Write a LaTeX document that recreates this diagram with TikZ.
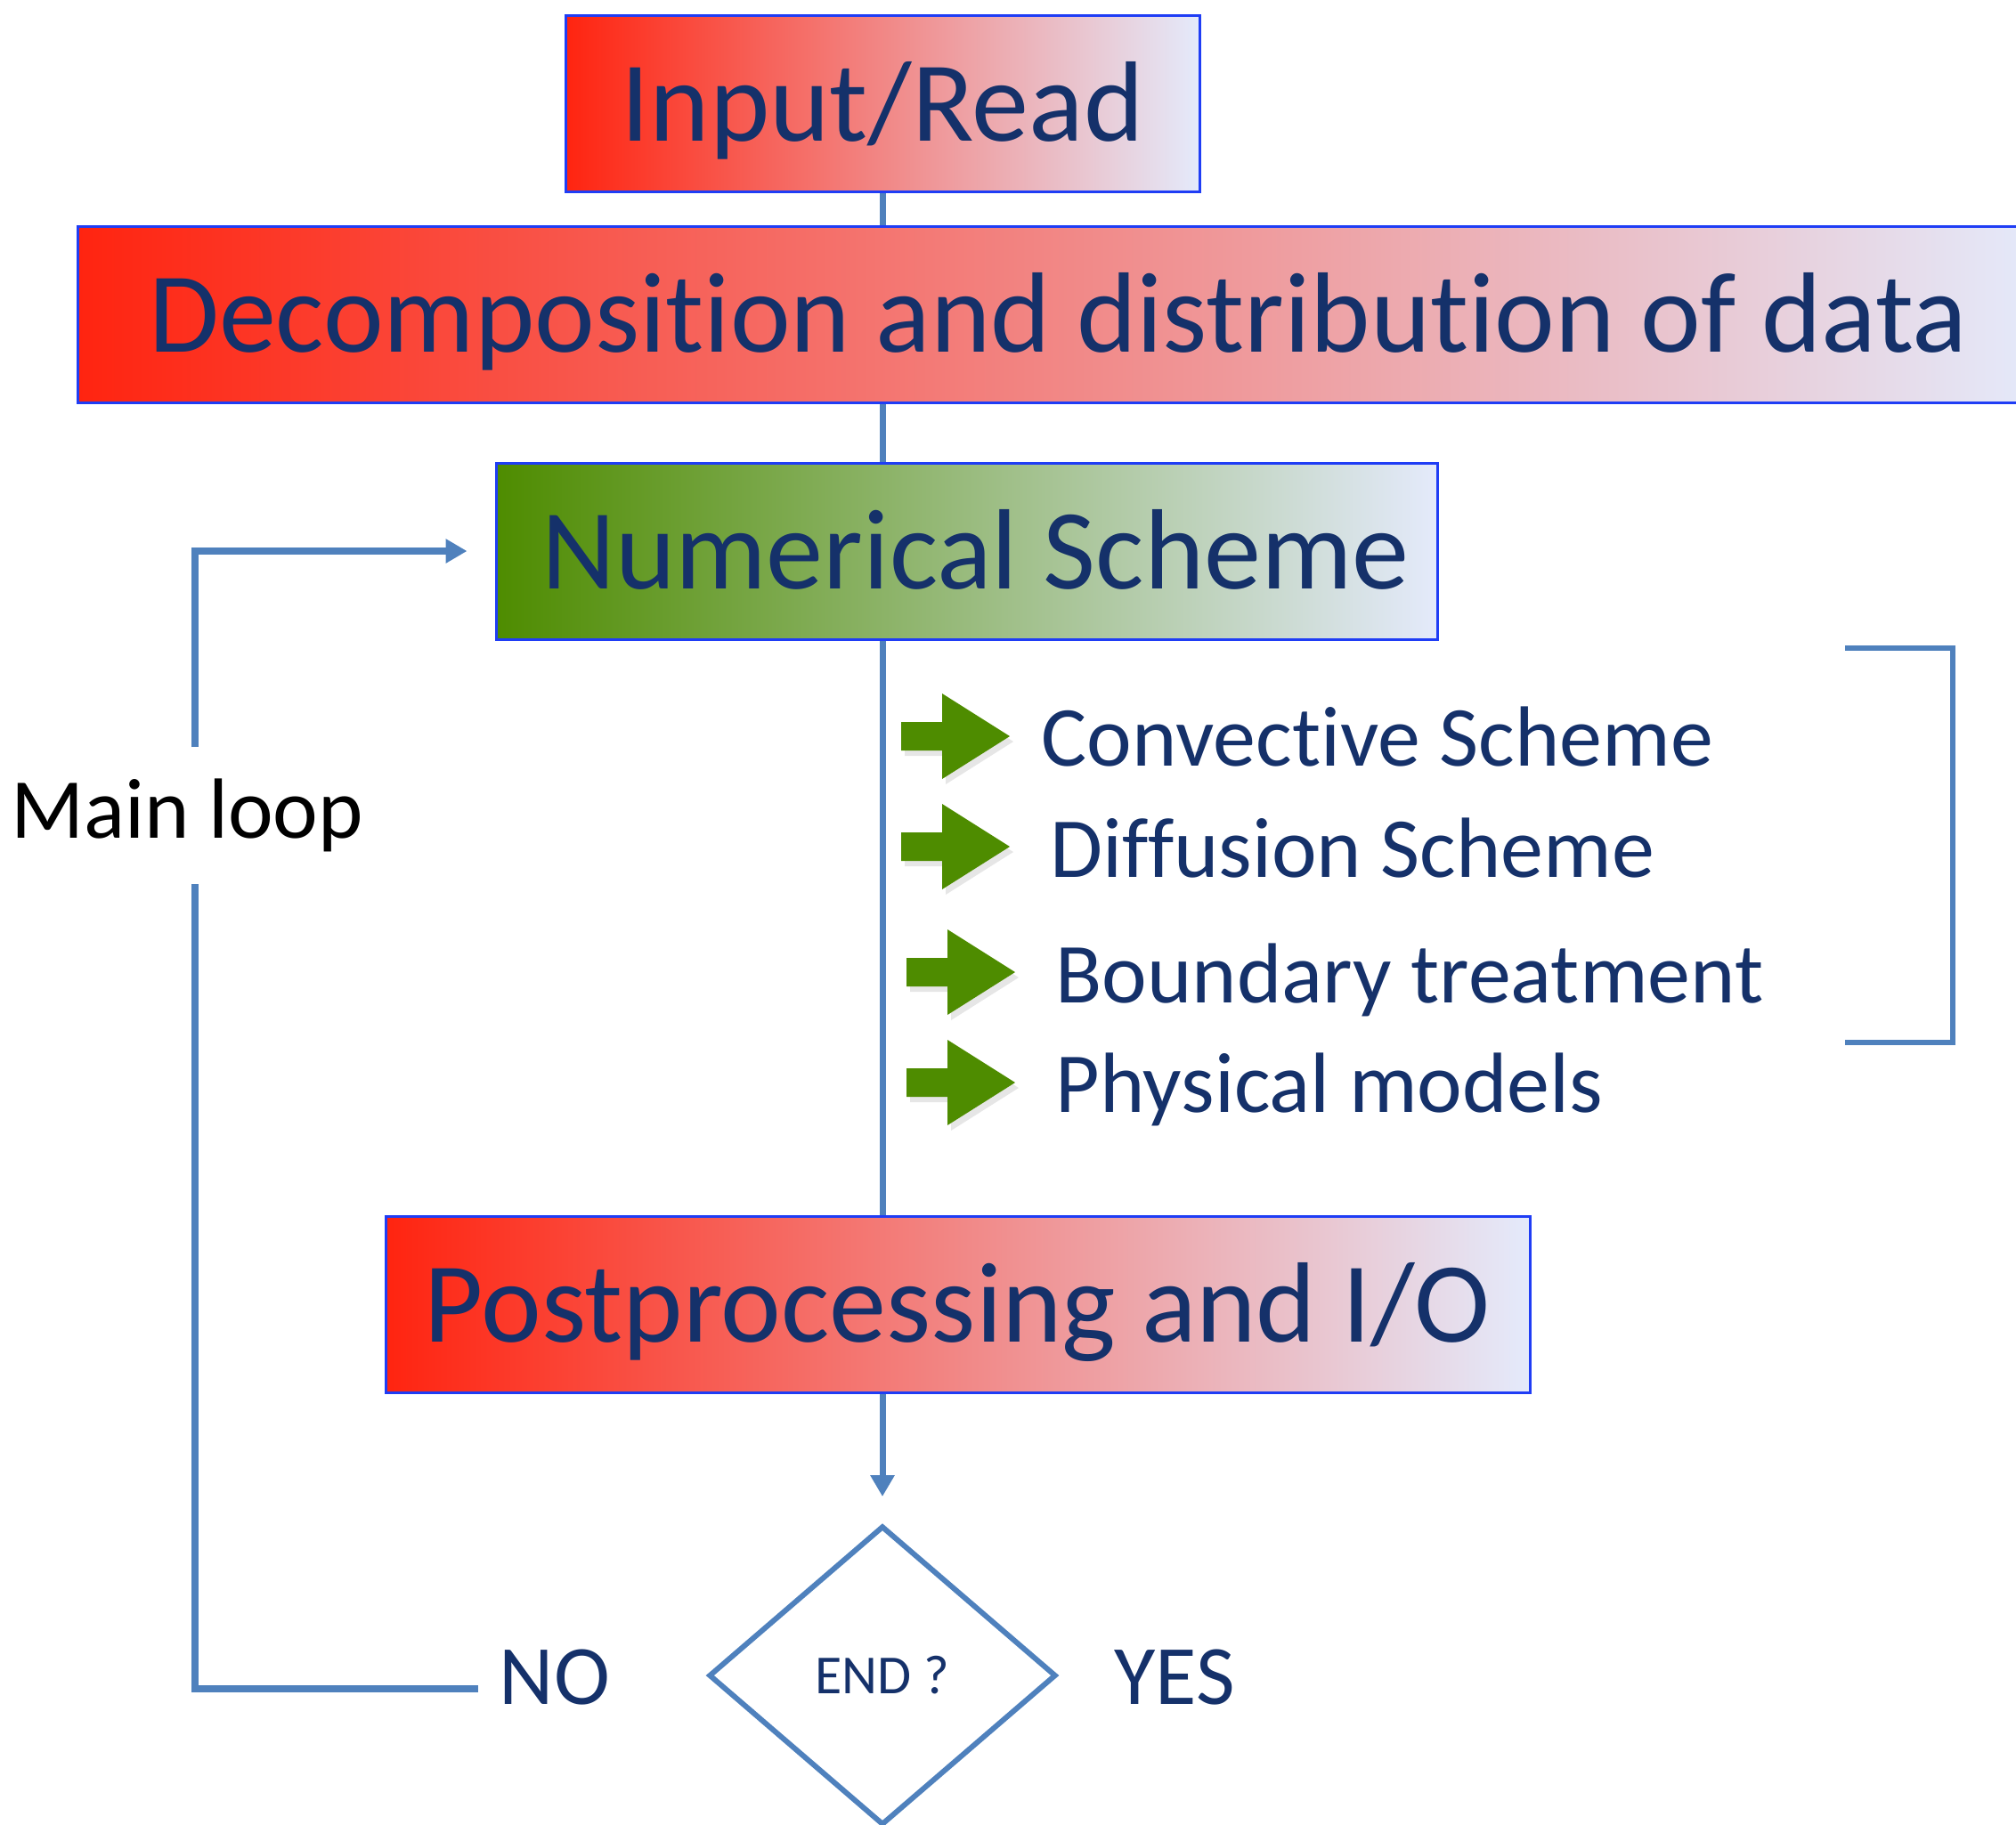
\documentclass[tikz,border=0pt]{standalone}
\usepackage{fontspec}
\setmainfont{Carlito}[Ligatures=NoCommon]
\usetikzlibrary{arrows.meta,positioning,calc,shapes.geometric,shadows}
\definecolor{navy}{HTML}{15316A}
\definecolor{boxedge}{HTML}{1F3DF5}
\definecolor{flowblue}{HTML}{4F81BD}
\definecolor{hotred}{HTML}{FF2410}
\definecolor{pinkmid}{HTML}{F5A7B0}
\definecolor{lilac}{HTML}{E4EAFB}
\definecolor{leaf}{HTML}{4E8C00}
\definecolor{sage}{HTML}{A6BFA6}

\tikzset{
  stagebox/.style={draw=boxedge,line width=0.03cm,rectangle,inner sep=0pt,
    minimum height=1.98cm,text height=1.0cm,text depth=0.16cm,text=navy,font=\fontsize{36.5}{44}\selectfont},
  hotfill/.style={left color=hotred,middle color=pinkmid,right color=lilac},
  greenfill/.style={left color=leaf,middle color=sage,right color=lilac},
  flow/.style={draw=flowblue,line width=0.07cm},
  loopline/.style={draw=flowblue,line width=0.075cm},
  tip/.style={-{Triangle[length=0.24cm,width=0.26cm]}},
  greenarrow/.style={fill=leaf,drop shadow={opacity=0.2,shadow xshift=0.04cm,shadow yshift=-0.06cm}},
  itemtext/.style={anchor=base west,inner sep=0pt,text=navy,font=\fontsize{27.3}{32}\selectfont},
  answer/.style={text=navy,font=\fontsize{27}{32}\selectfont}
}

\begin{document}
\begin{tikzpicture}
  \useasboundingbox (0,0) rectangle (22.64,-20.49);
  % the stages
  \node[stagebox,hotfill,minimum width=7.12cm] (input) at (9.91,-1.165) {Input/Read};
  \node[stagebox,hotfill,minimum width=22.03cm] (decomp) at (11.885,-3.53) {Decomposition and distribution of data};
  \node[stagebox,greenfill,minimum width=10.57cm] (numsch) at (10.855,-6.19) {\hspace{0.2cm}Numerical Scheme};
  \node[stagebox,hotfill,minimum width=12.85cm] (post) at (10.755,-14.65) {Postprocessing and I/O};
  \node[diamond,draw=flowblue,line width=0.06cm,minimum width=3.9cm,minimum height=3.36cm,inner sep=0pt,
    text=navy,font=\fontsize{17.6}{20}\selectfont] (endq) at (9.91,-18.82) {END ?};
  \node[answer] (no) at (6.23,-18.84) {NO};
  \node[answer] (yes) at (13.19,-18.84) {YES};
  \node[font=\fontsize{27.3}{33}\selectfont,inner xsep=0pt,inner ysep=0.35cm] (mainloop) at (2.10,-9.16) {Main loop};
  % central line
  \draw[flow] (input.south) -- (input.south |- decomp.north);
  \draw[flow] (decomp.south -| input) -- (numsch.north -| input);
  \draw[flow] (numsch.south -| input) -- (post.north -| input);
  \draw[flow,tip] (post.south -| input) -- ([yshift=0.3cm]endq.north);
  % main loop back to the scheme
  \draw[loopline] ([xshift=-0.12cm,yshift=-0.13cm]no.west) -| ([xshift=0.09cm]mainloop.south);
  \draw[loopline,tip] ([xshift=0.09cm]mainloop.north) |- ([xshift=-0.31cm]numsch.west);
  % the parts of the scheme
  \foreach \xa/\ya/\xt/\yt/\name/\txt in {10.12/8.27/11.69/8.60/conv/Convective Scheme,
      10.12/9.51/11.79/9.85/diff/Diffusion Scheme,
      10.18/10.92/11.85/11.26/bound/Boundary treatment,
      10.18/12.16/11.85/12.49/phys/Physical models}{
    \fill[greenarrow] (\xa,-\ya) ++(0,0.16) -- ++(0.46,0) -- ++(0,0.32) -- ++(0.76,-0.48)
      -- ++(-0.76,-0.48) -- ++(0,0.32) -- ++(-0.46,0) -- cycle;
    \node[itemtext] (\name) at (\xt,-\yt) {\txt};
  }
  \draw[flow,line width=0.06cm] (20.72,-7.28) -- (21.93,-7.28) -- (21.93,-11.71) -- (20.72,-11.71);
\end{tikzpicture}
\end{document}
